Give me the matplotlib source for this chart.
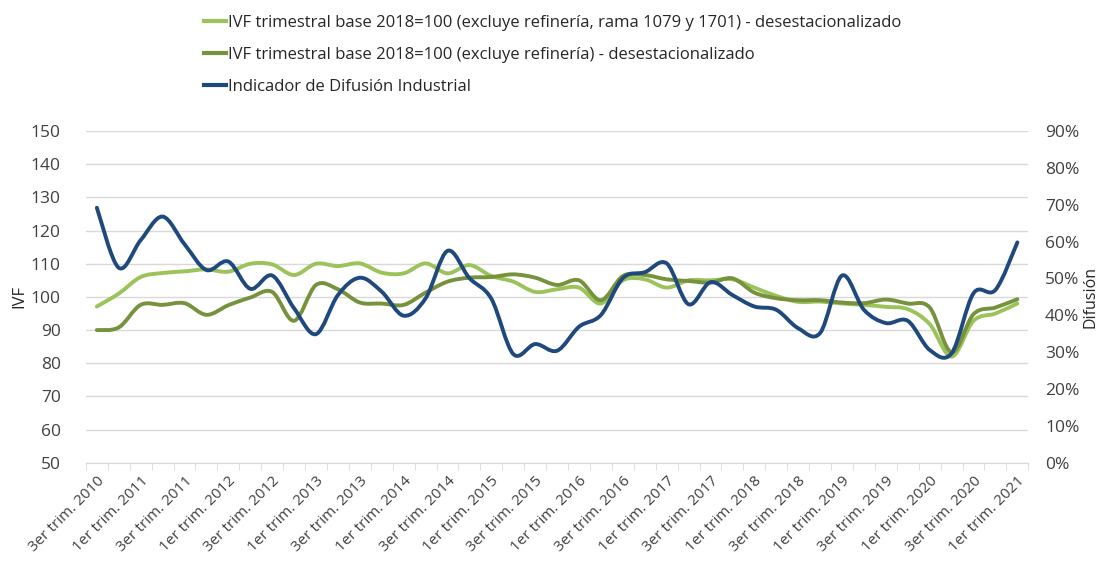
import numpy as np
import matplotlib
matplotlib.use("Agg")
import matplotlib.pyplot as plt
from matplotlib.path import Path
from matplotlib.patches import PathPatch
from matplotlib.lines import Line2D

plt.rcParams['font.family'] = ['Open Sans', 'DejaVu Sans']

# trimestres 3T2010 .. 1T2021
anios = list(range(2010, 2022))
trimestres = []
for a in anios:
    for q in range(1, 5):
        if (a == 2010 and q < 3) or (a == 2021 and q > 1):
            continue
        trimestres.append((q, a))

etiquetas = [f"{'1er' if q == 1 else '3er'} trim. {a}" for q, a in trimestres if q in (1, 3)]

ivf_rama = [97.1, 101.0, 106.0, 107.2, 107.7, 108.3, 107.6, 110.0, 109.8, 106.6,
            110.0, 109.3, 110.1, 107.3, 107.1, 110.1, 107.1, 109.6, 106.3, 104.6,
            101.5, 102.3, 102.8, 98.0, 105.0, 105.3, 102.8, 105.0, 105.0, 105.3,
            102.8, 100.3, 98.5, 98.6, 98.0, 97.6, 97.0, 96.3, 91.8, 82.0,
            92.8, 95.0, 98.0]

ivf_ref = [90.0, 90.8, 97.6, 97.6, 98.1, 94.6, 97.5, 99.8, 101.5, 92.8,
           103.6, 102.3, 98.3, 98.0, 97.6, 101.3, 104.6, 105.8, 106.0, 106.8,
           105.8, 103.6, 105.0, 99.0, 106.3, 106.6, 105.3, 104.8, 104.3, 105.6,
           101.3, 99.6, 99.0, 99.0, 98.3, 98.1, 99.2, 98.0, 96.8, 83.3,
           94.8, 96.8, 99.3]

difusion = [69.2, 52.9, 60.4, 66.8, 59.3, 52.3, 54.6, 47.2, 50.8, 41.9,
            34.9, 45.5, 50.2, 46.4, 39.9, 44.6, 57.5, 50.1, 44.5, 29.5,
            32.2, 30.4, 36.9, 40.1, 50.1, 51.7, 54.1, 43.0, 49.0, 45.5,
            42.4, 41.5, 36.5, 35.2, 50.8, 41.5, 37.9, 38.5, 30.6, 29.7,
            46.0, 46.9, 59.8]

c_rama = '#9BC35A'
c_ref = '#76923C'
c_dif = '#1F497D'


def curva_suave(ax, x, y, color, lw=2.8):
    # linea suavizada tipo Excel (Bezier cubica Catmull-Rom)
    x = np.asarray(x, float)
    y = np.asarray(y, float)
    n = len(x)
    verts = [(x[0], y[0])]
    codes = [Path.MOVETO]
    t = 1 / 6
    for i in range(n - 1):
        p0 = max(i - 1, 0)
        p3 = min(i + 2, n - 1)
        c1 = (x[i] + (x[i + 1] - x[p0]) * t, y[i] + (y[i + 1] - y[p0]) * t)
        c2 = (x[i + 1] - (x[p3] - x[i]) * t, y[i + 1] - (y[p3] - y[i]) * t)
        verts += [c1, c2, (x[i + 1], y[i + 1])]
        codes += [Path.CURVE4] * 3
    ax.add_patch(PathPatch(Path(verts, codes), fill=False, edgecolor=color,
                           lw=lw, capstyle='round', joinstyle='round', zorder=3))


fig = plt.figure(figsize=(11.01, 5.65), dpi=100)
ax = fig.add_axes([0.078, 0.181, 0.856, 0.587])
ax2 = ax.twinx()

x = np.arange(len(trimestres))
curva_suave(ax, x, ivf_rama, c_rama)
curva_suave(ax, x, ivf_ref, c_ref)
curva_suave(ax2, x, np.array(difusion) / 100, c_dif)

ax.set_xlim(-0.5, len(x) - 0.5)
ax.set_ylim(50, 150)
ax.set_yticks(range(50, 151, 10))
ax2.set_ylim(0, 0.9)
ax2.set_yticks(np.arange(0, 0.91, 0.1))
ax2.set_yticklabels([f"{int(round(v * 100))}%" for v in np.arange(0, 0.91, 0.1)])

ax.grid(axis='y', color='#d9d9d9', lw=1)
ax.set_axisbelow(True)
for a in (ax, ax2):
    for s in a.spines.values():
        s.set_visible(False)
ax.spines['bottom'].set_visible(True)
ax.spines['bottom'].set_color('#d9d9d9')

ax.set_xticks(x[::2])
ax.set_xticklabels(etiquetas, rotation=45, ha='right', rotation_mode='anchor',
                   fontsize=11, color='#404040')
ax.set_xticks(np.arange(-0.5, len(x), 1), minor=True)
ax.tick_params(axis='x', which='major', length=0, pad=8)
ax.tick_params(axis='x', which='minor', length=5, color='#d9d9d9')
ax.tick_params(axis='y', length=0, labelsize=12.5, labelcolor='#404040', pad=18)
ax2.tick_params(axis='y', length=0, labelsize=12.5, labelcolor='#404040', pad=12)

ax.set_ylabel('IVF', fontsize=12, color='#262626')
ax.yaxis.set_label_coords(-0.062, 0.5)
ax2.set_ylabel('Difusión', fontsize=11.5, color='#262626')
ax2.yaxis.set_label_coords(1.057, 0.5)

handles = [Line2D([], [], color=c_rama, lw=3),
           Line2D([], [], color=c_ref, lw=3),
           Line2D([], [], color=c_dif, lw=3)]
nombres = ['IVF trimestral base 2018=100 (excluye refinería, rama 1079 y 1701) - desestacionalizado',
           'IVF trimestral base 2018=100 (excluye refinería) - desestacionalizado',
           'Indicador de Difusión Industrial']
fig.legend(handles, nombres, loc='upper left', bbox_to_anchor=(0.172, 1.0),
           frameon=False, fontsize=12, handlelength=1.3, handletextpad=0.1,
           labelspacing=0.95, labelcolor='#262626')

fig.savefig('out.png', dpi=100)
